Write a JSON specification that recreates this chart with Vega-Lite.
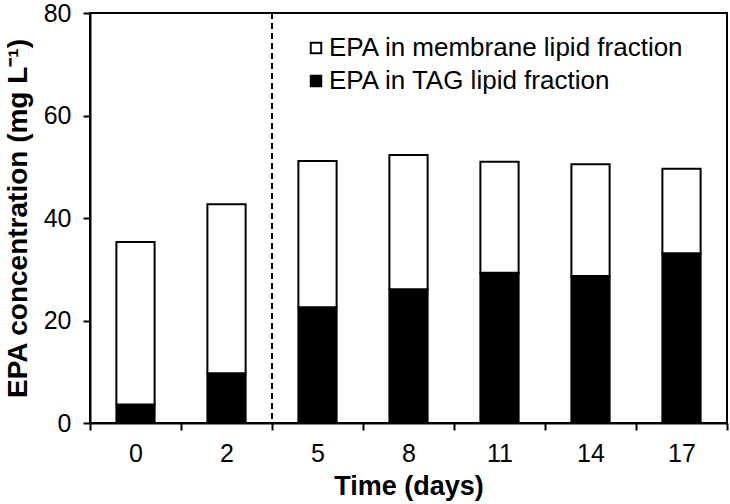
{
  "$schema": "https://vega.github.io/schema/vega-lite/v6.json",
  "width": 637,
  "height": 410,
  "autosize": {"type": "none"},
  "padding": {"left": 90, "top": 13, "right": 3, "bottom": 81},
  "background": "white",
  "config": {
    "font": "Liberation Sans",
    "view": {"stroke": "black", "strokeWidth": 2},
    "axis": {
      "domainColor": "black", "domainWidth": 2, "tickColor": "black", "tickWidth": 2, "tickSize": 7,
      "labelColor": "black", "titleColor": "black", "grid": false,
      "labelFontSize": 25, "titleFontSize": 27, "titleFontWeight": "bold", "labelFont": "Liberation Sans", "titleFont": "Liberation Sans"
    }
  },
  "data": {
    "values": [
      {"day": 0, "fraction": "EPA in TAG lipid fraction", "value": 3.6},
      {"day": 0, "fraction": "EPA in membrane lipid fraction", "value": 31.7},
      {"day": 2, "fraction": "EPA in TAG lipid fraction", "value": 9.7},
      {"day": 2, "fraction": "EPA in membrane lipid fraction", "value": 33.0},
      {"day": 5, "fraction": "EPA in TAG lipid fraction", "value": 22.6},
      {"day": 5, "fraction": "EPA in membrane lipid fraction", "value": 28.5},
      {"day": 8, "fraction": "EPA in TAG lipid fraction", "value": 26.1},
      {"day": 8, "fraction": "EPA in membrane lipid fraction", "value": 26.2},
      {"day": 11, "fraction": "EPA in TAG lipid fraction", "value": 29.3},
      {"day": 11, "fraction": "EPA in membrane lipid fraction", "value": 21.7},
      {"day": 14, "fraction": "EPA in TAG lipid fraction", "value": 28.7},
      {"day": 14, "fraction": "EPA in membrane lipid fraction", "value": 21.8},
      {"day": 17, "fraction": "EPA in TAG lipid fraction", "value": 33.1},
      {"day": 17, "fraction": "EPA in membrane lipid fraction", "value": 16.5}
    ]
  },
  "layer": [
    {
      "mark": {"type": "bar", "stroke": "black", "strokeWidth": 2, "width": {"band": 0.42}},
      "encoding": {
        "x": {
          "field": "day", "type": "ordinal",
          "scale": {"paddingInner": 0, "paddingOuter": 0},
          "axis": {"title": "Time (days)", "labelAngle": 0, "tickBand": "extent", "labelPadding": 11, "titlePadding": 7}
        },
        "y": {
          "field": "value", "type": "quantitative", "stack": "zero",
          "scale": {"domain": [0, 80], "nice": false},
          "axis": {"title": "EPA concentration (mg L⁻¹)", "titleFontSize": 28, "values": [0, 20, 40, 60, 80], "labelPadding": 12, "titlePadding": 11}
        },
        "color": {
          "field": "fraction", "type": "nominal",
          "scale": {"domain": ["EPA in membrane lipid fraction", "EPA in TAG lipid fraction"], "range": ["white", "black"]},
          "legend": {
            "title": null, "orient": "none", "legendX": 213, "legendY": 22,
            "symbolType": "square", "symbolSize": 110, "symbolStrokeColor": "black", "symbolStrokeWidth": 2,
            "labelFontSize": 26, "labelColor": "black", "labelFont": "Liberation Sans", "labelOffset": 0, "rowPadding": 7, "labelLimit": 500
          }
        },
        "order": {"field": "fraction", "sort": "ascending"}
      }
    },
    {
      "mark": {"type": "rule", "color": "black", "strokeWidth": 1.5, "strokeDash": [6, 4]},
      "encoding": {
        "x": {"datum": 5, "type": "ordinal", "bandPosition": 0}
      }
    }
  ]
}
